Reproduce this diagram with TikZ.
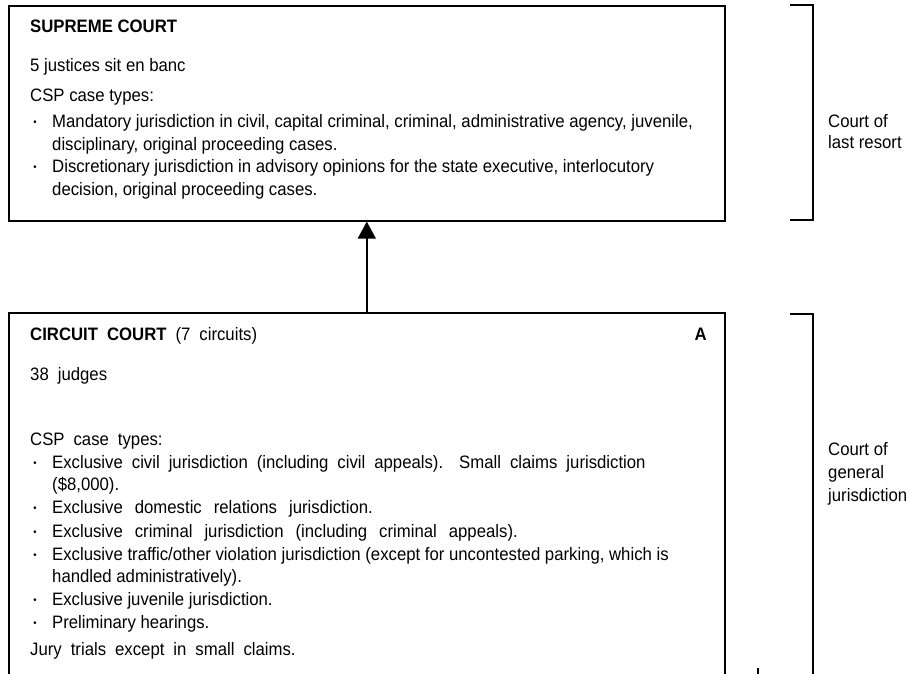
\documentclass[tikz,border=0pt]{standalone}
\usepackage{fontspec}
\setmainfont{Liberation Sans}[FakeStretch=0.93]
\usetikzlibrary{arrows.meta}

% wider word gaps, as in the lower box
\newcommand{\wide}[2][9pt]{{\spaceskip=#1\relax #2}}
\newcommand{\dotb}{{\fontsize{10}{10}\selectfont\raisebox{2pt}{•}}}

\begin{document}
\begin{tikzpicture}[x=1pt,y=-1pt,
    court/.style={draw, line width=1.6pt, anchor=north west, inner sep=0pt, minimum width=716pt},
    line/.style={anchor=base west, inner sep=0pt, font=\fontsize{18}{21}\selectfont},
    dot/.style={anchor=base, inner sep=0pt},
    brack/.style={line width=1.3pt}]
  \clip (0,0) rectangle (908,674);
  % the two courts
  \node[court, minimum height=215pt] (supreme) at (8,5) {};
  \node[court, minimum height=420pt] (circuit) at (8,312) {};
  \draw[line width=1.6pt, -{Triangle[width=18pt,length=17pt]}] (circuit.north) -- (supreme.south);

  % supreme court text
  \foreach \y/\x/\t [count=\i] in {
      33/30/{\textbf{SUPREME COURT}},
      72/30/{5 justices sit en banc},
      102/30/{CSP case types:},
      128/52/{Mandatory jurisdiction in civil, capital criminal, criminal, administrative agency, juvenile,},
      150/52/{disciplinary, original proceeding cases.},
      173/52/{Discretionary jurisdiction in advisory opinions for the state executive, interlocutory},
      195/52/{decision, original proceeding cases.}}
    \node[line] (sc\i) at (\x,\y) {\t};
  \foreach \y [count=\i] in {128,173}
    \node[dot] (sb\i) at (35,\y) {\dotb};

  % circuit court text
  \foreach \y/\x/\t [count=\i] in {
      340/30/{\wide{\textbf{CIRCUIT COURT} (7 circuits)}},
      380/30/{\wide{38 judges}},
      445/30/{\wide{CSP case types:}},
      468/52/{\wide{Exclusive civil jurisdiction (including civil appeals).\hspace{16pt}Small claims jurisdiction}},
      490/52/{(\$8,000).},
      513/52/{\wide[12pt]{Exclusive domestic relations jurisdiction.}},
      537/52/{\wide[12pt]{Exclusive criminal jurisdiction (including criminal appeals).}},
      560/52/{Exclusive traffic/other violation jurisdiction (except for uncontested parking, which is},
      582/52/{handled administratively).},
      605/52/{Exclusive juvenile jurisdiction.},
      628/52/{Preliminary hearings.},
      655/30/{\wide{Jury trials except in small claims.}}}
    \node[line] (cc\i) at (\x,\y) {\t};
  \foreach \y [count=\i] in {468,513,537,560,605,628}
    \node[dot] (cb\i) at (35,\y) {\dotb};
  \node[line, anchor=base east] (level) at (707,340) {\textbf{A}};

  % brackets and their labels
  \draw[brack] (790,5) -| (813,220) -- (790,220);
  \draw[brack] (790,314) -| (813,700);
  \foreach \y/\t [count=\i] in {128/Court of, 149/last resort, 455/Court of, 478/general, 501/jurisdiction}
    \node[line] (lb\i) at (828,\y) {\t};

  \coordinate (tick) at (758,668);
  \draw[brack] (tick) -- ++(0,10);
\end{tikzpicture}
\end{document}
